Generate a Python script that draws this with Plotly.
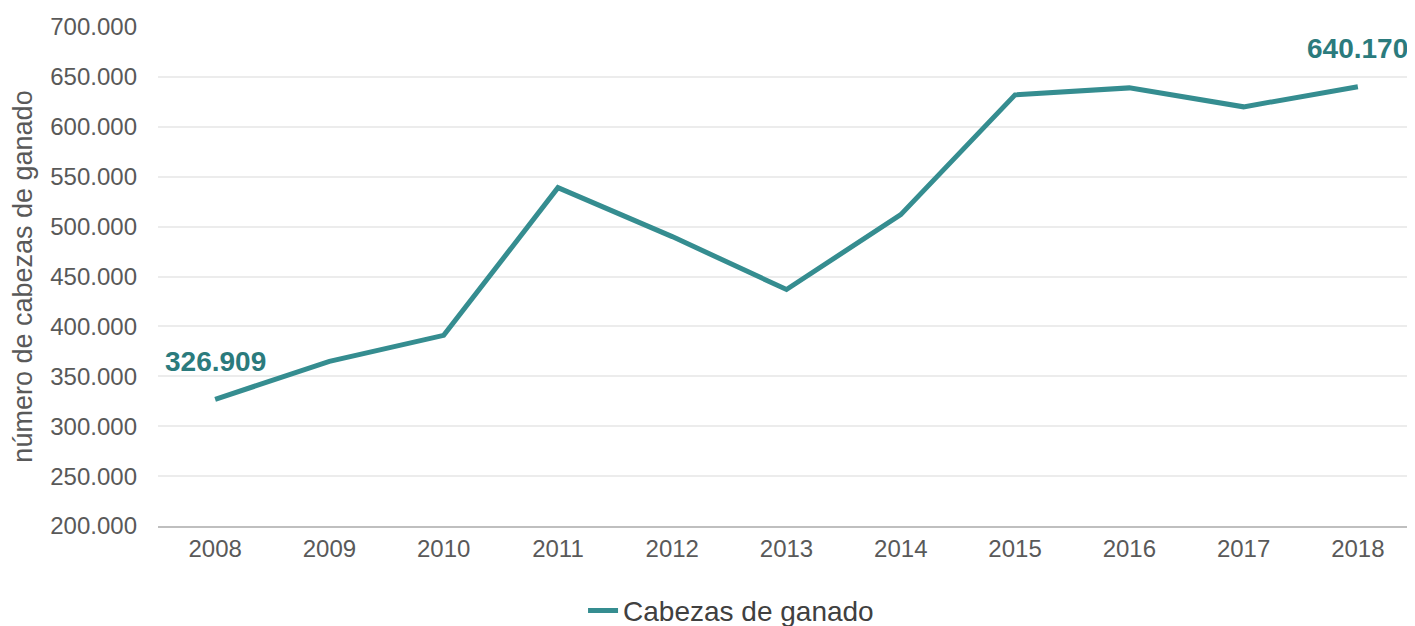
import plotly.graph_objects as go

years = ["2008", "2009", "2010", "2011", "2012", "2013", "2014", "2015", "2016", "2017", "2018"]
cabezas = [326909, 365000, 391000, 539000, 490000, 437000, 512000, 632000, 639000, 620000, 640170]
label_years = ["2008", "2018"]
label_values = [326909, 640170]
label_texts = ["326.909", "640.170"]
y_ticks = [200000, 250000, 300000, 350000, 400000, 450000, 500000, 550000, 600000, 650000, 700000]
y_tick_text = ["200.000", "250.000", "300.000", "350.000", "400.000", "450.000", "500.000", "550.000", "600.000", "650.000", "700.000"]

LINE = "#358d90"
FONT = "Liberation Sans, Arial, sans-serif"

fig = go.Figure()
fig.add_trace(go.Scatter(
    x=years, y=cabezas, mode="lines", name="Cabezas de ganado",
    line=dict(color=LINE, width=5),
))

for yr, v, t in zip(label_years, label_values, label_texts):
    fig.add_annotation(x=years.index(yr), y=v, text="<b>%s</b>" % t, showarrow=False,
                       xref="x", yref="y", yshift=38,
                       font=dict(family=FONT, size=28, color="#2b7b7d"))

fig.update_layout(
    width=1407, height=618,
    margin=dict(l=150, r=0, t=19, b=100, autoexpand=False),
    paper_bgcolor="white", plot_bgcolor="white",
    font=dict(family=FONT, size=24, color="#595959"),
    showlegend=True,
    legend=dict(orientation="h", xref="container", x=0.4087, xanchor="left",
                yref="container", y=0.065, yanchor="top",
                font=dict(size=28, color="#404040")),
    xaxis=dict(type="category", range=[-0.5, 10.5], showgrid=False, automargin=False,
               showline=True, linecolor="#bfbfbf", linewidth=2,
               ticks="", tickfont=dict(size=24, color="#595959")),
    yaxis=dict(range=[200000, 700000], tickvals=y_ticks, ticktext=y_tick_text,
               showgrid=True, gridcolor="#ececec", gridwidth=1.5, automargin=False,
               zeroline=False, showline=False, ticks="",
               tickfont=dict(size=24, color="#595959"), ticklabelstandoff=20,
               title=dict(text="número de cabezas de ganado", standoff=10,
                          font=dict(size=27, color="#595959"))),
)

fig.write_html("out.html")
